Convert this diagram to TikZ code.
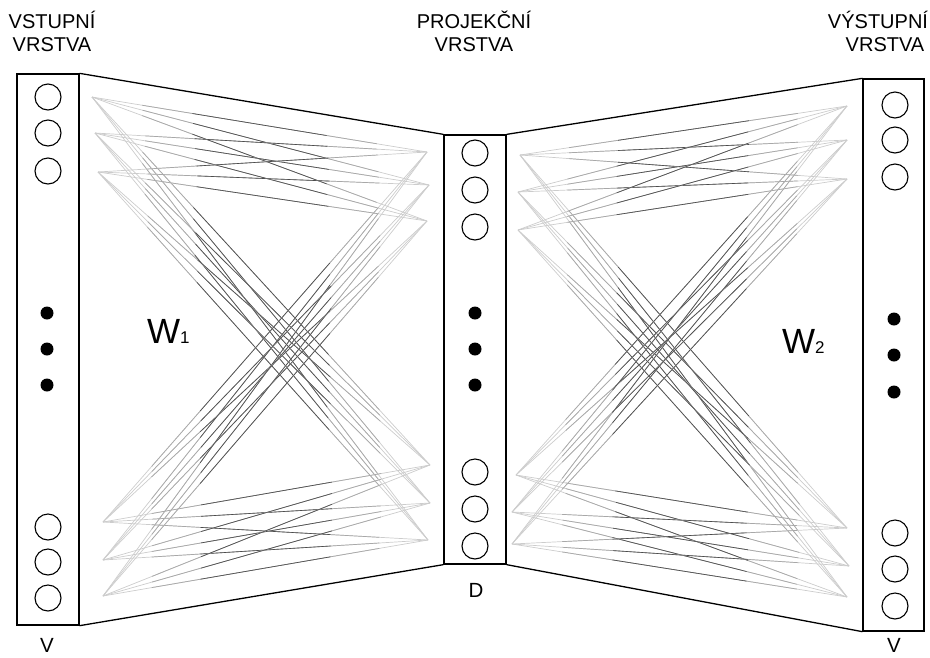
\documentclass[tikz,border=0pt]{standalone}
\usepackage{fontspec}
\setmainfont{Liberation Sans}
\usetikzlibrary{calc}
\tikzset{
  layerbox/.style={draw, line width=1.3pt, minimum width=62pt, inner sep=0pt},
  neuron/.style={circle, draw, line width=1.1pt, minimum size=26pt, inner sep=0pt},
  dotn/.style={circle, fill, minimum size=13pt, inner sep=0pt},
  lbl/.style={font=\fontsize{20}{24}\selectfont, anchor=base, inner sep=0pt},
  blbl/.style={font=\fontsize{20.5}{25}\selectfont, anchor=base, inner sep=0pt},
  wlbl/.style={font=\fontsize{35}{42}\selectfont, anchor=base west, inner sep=0pt},
  edgeline/.style={line width=1.3pt},
  wireA/.style={gray!40, line width=0.7pt},
  wireB/.style={gray!68, line width=0.7pt},
  wireC/.style={black!70, line width=0.6pt},
}
\newcommand\wire[2]{%
  \draw[wireA] (#1) -- (#2);
  \draw[wireB] ($(#1)!0.15!(#2)$) -- ($(#1)!0.85!(#2)$);
  \draw[wireC] ($(#1)!0.3!(#2)$) -- ($(#1)!0.7!(#2)$);}
\begin{document}
\begin{tikzpicture}[x=1pt,y=-1pt]
\useasboundingbox (0,0) rectangle (930,657);

% layer boxes
\node[layerbox, minimum height=551pt] (lbox) at (48,349.5) {};
\node[layerbox, minimum height=429pt] (mbox) at (475,349.5) {};
\node[layerbox, minimum width=61pt, minimum height=552pt] (rbox) at (893.5,355) {};

% trapezoid edges
\draw[edgeline] (lbox.north east) -- (mbox.north west);
\draw[edgeline] (lbox.south east) -- (mbox.south west);
\draw[edgeline] (mbox.north east) -- (rbox.north west);
\draw[edgeline] (mbox.south east) -- (rbox.south west);

% neurons
\foreach \n/\y in {1/97,2/133,3/171,4/527,5/562,6/598}
  \node[neuron] (l\n) at (48,\y) {};
\foreach \n/\y in {1/153,2/190,3/227,4/472,5/509,6/546}
  \node[neuron] (m\n) at (475,\y) {};
\foreach \n/\y in {1/105,2/140,3/177,4/533,5/569,6/606}
  \node[neuron] (r\n) at (895,\y) {};

% dots
\foreach \n/\y in {1/313,2/349,3/385}
  \node[dotn] (ld\n) at (47,\y) {};
\foreach \n/\y in {1/313,2/349,3/385}
  \node[dotn] (md\n) at (475,\y) {};
\foreach \n/\y in {1/319,2/355,3/392}
  \node[dotn] (rd\n) at (894,\y) {};

% wire end points
\coordinate (a1) at (92,97);  \coordinate (a2) at (95,133); \coordinate (a3) at (98,172);
\coordinate (a4) at (103,522); \coordinate (a5) at (103,560); \coordinate (a6) at (103,596);
\coordinate (b1) at (427,152); \coordinate (b2) at (429,185); \coordinate (b3) at (427,221);
\coordinate (b4) at (430,465); \coordinate (b5) at (430,503); \coordinate (b6) at (428,540);
\coordinate (c1) at (520,155); \coordinate (c2) at (518,192); \coordinate (c3) at (518,230);
\coordinate (c4) at (516,475); \coordinate (c5) at (512,512); \coordinate (c6) at (512,544);
\coordinate (d1) at (847,106); \coordinate (d2) at (847,140); \coordinate (d3) at (847,179);
\coordinate (d4) at (847,528); \coordinate (d5) at (849,566); \coordinate (d6) at (847,597);

\foreach \i in {1,...,6}{
  \foreach \j in {1,...,6}{
    \wire{a\i}{b\j}
    \wire{c\i}{d\j}
  }
}

% labels
\node[lbl] (t1a) at (52,28) {VSTUPNÍ};
\node[lbl] (t1b) at (52,51) {VRSTVA};
\node[lbl] (t2a) at (474,28) {PROJEKČNÍ};
\node[lbl] (t2b) at (474,51) {VRSTVA};
\node[lbl] (t3a) at (878,28) {VÝSTUPNÍ};
\node[lbl] (t3b) at (885,51) {VRSTVA};
\node[blbl] (bv1) at (47,652) {V};
\node[blbl] (bd) at (476,597) {D};
\node[blbl] (bv2) at (894,652) {V};
\node[wlbl] (w1) at (147,343) {W{\fontsize{17}{20}\selectfont 1}};
\node[wlbl] (w2) at (782,353) {W{\fontsize{17}{20}\selectfont 2}};
\end{tikzpicture}
\end{document}
